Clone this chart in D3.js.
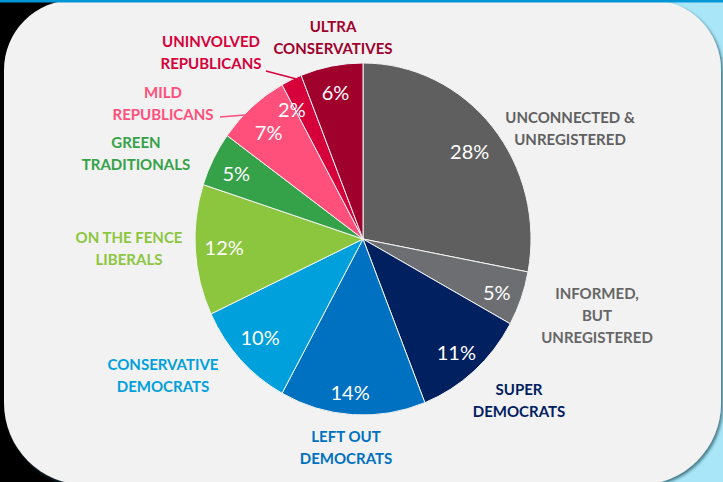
<!DOCTYPE html>
<html>
<head>
<meta charset="utf-8">
<script src="https://cdn.jsdelivr.net/npm/d3@7"></script>
<style>
  html, body { margin: 0; padding: 0; background: #000; }
  svg { display: block; }
</style>
</head>
<body>
<svg id="chart" width="723" height="482"></svg>
<script>
// Segment names (clockwise from 12 o'clock) and their share of the population (%)
const categories = [
  "UNCONNECTED & UNREGISTERED",
  "INFORMED, BUT UNREGISTERED",
  "SUPER DEMOCRATS",
  "LEFT OUT DEMOCRATS",
  "CONSERVATIVE DEMOCRATS",
  "ON THE FENCE LIBERALS",
  "GREEN TRADITIONALS",
  "MILD REPUBLICANS",
  "UNINVOLVED REPUBLICANS",
  "ULTRA CONSERVATIVES"
];
const shares = [28, 5, 11, 14, 10, 12, 5, 7, 2, 6];

// Line breaks used for each segment's outer label
const labelLines = [
  ["UNCONNECTED &", "UNREGISTERED"],
  ["INFORMED,", "BUT", "UNREGISTERED"],
  ["SUPER", "DEMOCRATS"],
  ["LEFT OUT", "DEMOCRATS"],
  ["CONSERVATIVE", "DEMOCRATS"],
  ["ON THE FENCE", "LIBERALS"],
  ["GREEN", "TRADITIONALS"],
  ["MILD", "REPUBLICANS"],
  ["UNINVOLVED", "REPUBLICANS"],
  ["ULTRA", "CONSERVATIVES"]
];

// Slice fills and label colours
const sliceColors = ["#5f5f5f", "#6d6e71", "#00205f", "#0070c0", "#00a0dc",
                     "#8cc63f", "#35a148", "#ff4f7b", "#d6003a", "#a0002c"];
const textColors  = ["#606060", "#666666", "#00205f", "#0070c0", "#00a0dc",
                     "#8cc63f", "#35a148", "#ff4f7b", "#d6003a", "#a0002c"];

// Outer label placement: centre x and centre y of the first line
const labelPos = [
  [570, 117], [597, 293], [519, 389], [346, 436], [163, 364],
  [129, 237], [136, 142], [163, 92],  [211, 41],  [333, 26]
];
// Nudges for the percentage labels inside the slices
const pctNudge = [
  [-2, 7], [1, 4], [0, 3], [-4, 6], [0, -2],
  [2, 0], [-1, 2], [-1, 5], [-11, 5], [-1, -1]
];
// Leader lines: label-side start point and where along the slice's rim they end
const leaders = [
  { index: 8, from: [266, 71], along: 0.7 },
  { index: 7, from: [220, 117], along: 0.36 }
];

const W = 723, H = 482;
const svg = d3.select("#chart");

// ---- backdrop: dark left, light cyan right, slide-like panel on top ----
const defs = svg.append("defs");
const shadow = defs.append("filter").attr("id", "panelShadow")
  .attr("x", "-5%").attr("y", "-5%").attr("width", "110%").attr("height", "110%");
shadow.append("feDropShadow").attr("dx", 2).attr("dy", 2).attr("stdDeviation", 1.6)
  .attr("flood-color", "#1f4f5c").attr("flood-opacity", 0.7);

svg.append("rect").attr("x", 0).attr("y", 0).attr("width", W / 2).attr("height", H).attr("fill", "#000");
svg.append("rect").attr("x", W / 2).attr("y", 0).attr("width", W / 2).attr("height", H).attr("fill", "#a9e6f8");

function roundedPanel(x0, y0, x1, y1, rt, rb) {
  return `M${x0 + rt},${y0} H${x1 - rt} A${rt},${rt} 0 0 1 ${x1},${y0 + rt}` +
         ` V${y1 - rb} A${rb},${rb} 0 0 1 ${x1 - rb},${y1}` +
         ` H${x0 + rb} A${rb},${rb} 0 0 1 ${x0},${y1 - rb}` +
         ` V${y0 + rt} A${rt},${rt} 0 0 1 ${x0 + rt},${y0} Z`;
}
svg.append("path")
  .attr("d", roundedPanel(4, 0, 721, 485, 70, 82))
  .attr("fill", "#f2f2f2")
  .attr("filter", "url(#panelShadow)");

svg.append("rect").attr("x", 0).attr("y", 0).attr("width", W).attr("height", 2.5).attr("fill", "#0096d6");

// ---- pie ----
const cx = 363, cy = 239, rx = 168, ry = 176;
const pie = d3.pie().sort(null).value(d => d).startAngle(0).endAngle(2 * Math.PI);
const arcs = pie(shares);
const arc = d3.arc().innerRadius(0).outerRadius(rx);

const pieG = svg.append("g")
  .attr("transform", `translate(${cx},${cy}) scale(1,${ry / rx})`);
pieG.selectAll("path.slice")
  .data(arcs)
  .join("path")
  .attr("class", "slice")
  .attr("d", arc)
  .attr("fill", (d, i) => sliceColors[i])
  .attr("stroke", "#f4f4f4")
  .attr("stroke-width", 1)
  .attr("vector-effect", "non-scaling-stroke");

// point on the (slightly oval) pie at an angle measured clockwise from 12 o'clock
const rim = (a, k) => [cx + k * rx * Math.sin(a), cy - k * ry * Math.cos(a)];

// percentage labels
const fmt = d => d3.format("d")(d) + "%";
svg.append("g").selectAll("text")
  .data(arcs)
  .join("text")
  .attr("x", (d, i) => rim((d.startAngle + d.endAngle) / 2, 0.84)[0] + pctNudge[i][0])
  .attr("y", (d, i) => rim((d.startAngle + d.endAngle) / 2, 0.84)[1] + pctNudge[i][1] + 7.2)
  .attr("text-anchor", "middle")
  .attr("font-family", "Lato, 'Open Sans', sans-serif")
  .attr("font-size", 20)
  .attr("fill", "#ffffff")
  .text(d => fmt(d.data));

// leader lines for the two narrow slices
svg.append("g").selectAll("line")
  .data(leaders)
  .join("line")
  .attr("x1", d => d.from[0])
  .attr("y1", d => d.from[1])
  .attr("x2", d => { const s = arcs[d.index]; return rim(s.startAngle + d.along * (s.endAngle - s.startAngle), 0.995)[0]; })
  .attr("y2", d => { const s = arcs[d.index]; return rim(s.startAngle + d.along * (s.endAngle - s.startAngle), 0.995)[1]; })
  .attr("stroke", d => textColors[d.index])
  .attr("stroke-width", 1.5);

// outer category labels
const lineGap = 22, capShift = 5.5;
const labels = svg.append("g")
  .attr("font-family", "Lato, 'Open Sans', sans-serif")
  .attr("font-weight", "bold")
  .attr("font-size", 15)
  .attr("text-anchor", "middle");
categories.forEach((name, i) => {
  const t = labels.append("text")
    .attr("fill", textColors[i])
    .attr("aria-label", name);
  labelLines[i].forEach((ln, j) => {
    t.append("tspan")
      .attr("x", labelPos[i][0])
      .attr("y", labelPos[i][1] + j * lineGap + capShift)
      .text(ln);
  });
});
</script>
</body>
</html>
